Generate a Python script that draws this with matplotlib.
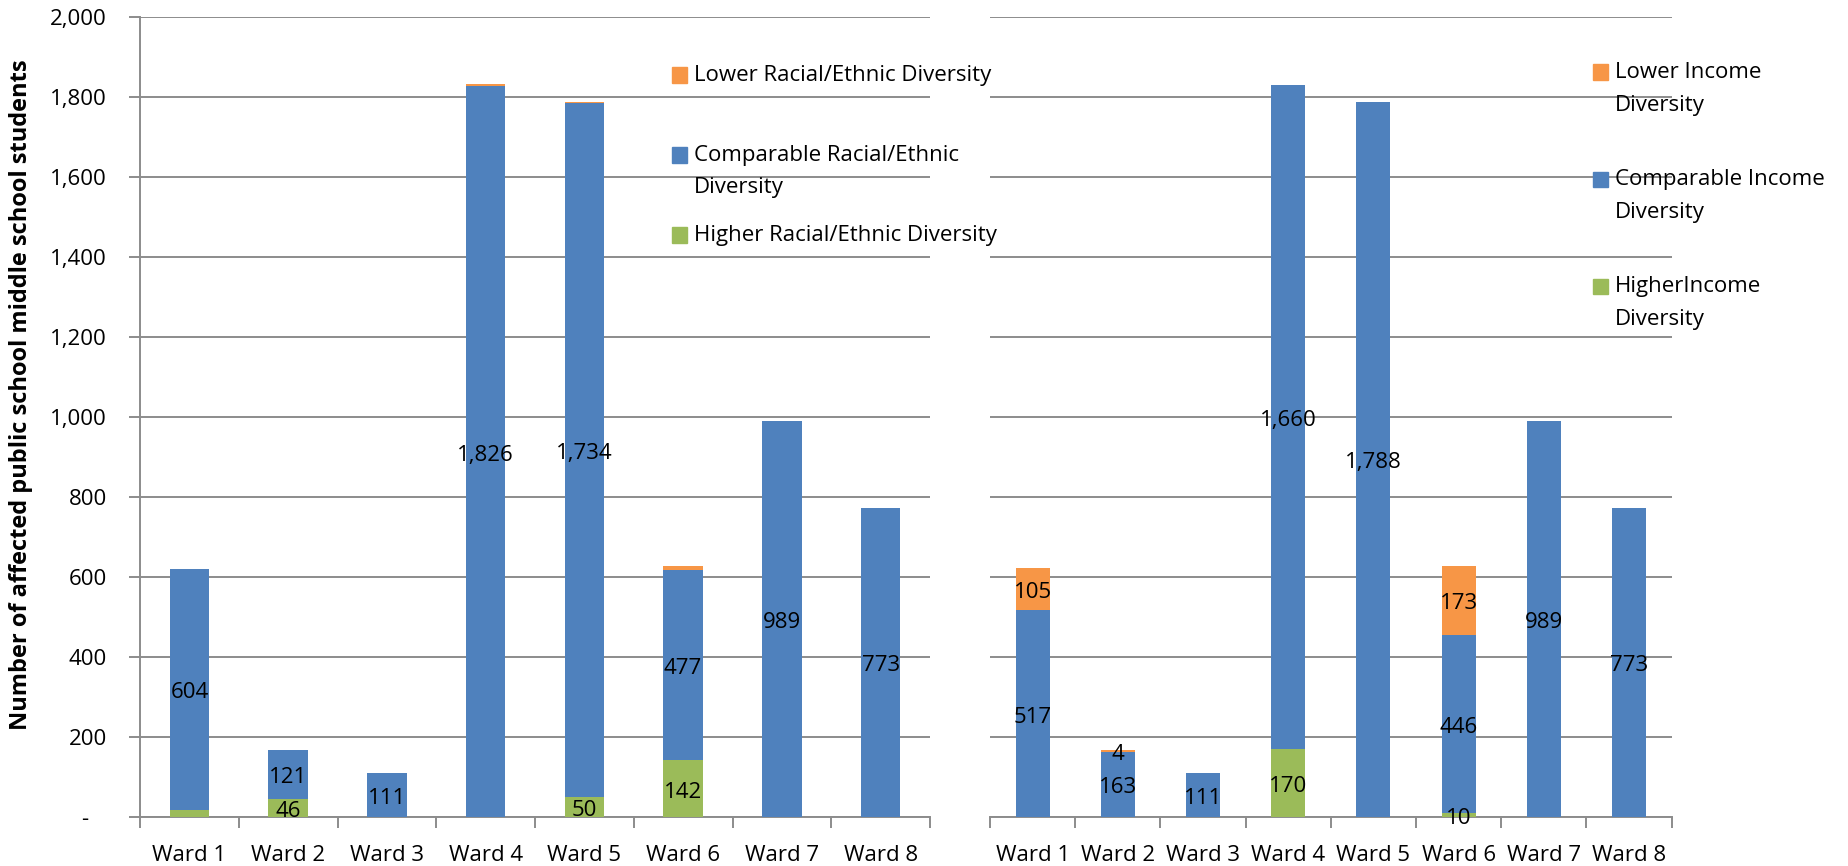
import matplotlib
matplotlib.use("Agg")
import matplotlib.pyplot as plt
from matplotlib.patches import Rectangle
from matplotlib.ticker import FixedLocator, FuncFormatter

WARDS = ["Ward 1", "Ward 2", "Ward 3", "Ward 4", "Ward 5", "Ward 6", "Ward 7", "Ward 8"]

# racial / ethnic diversity (left panel)
race_higher = [17, 46, 0, 0, 50, 142, 0, 0]
race_comparable = [604, 121, 111, 1826, 1734, 477, 989, 773]
race_lower = [0, 0, 0, 5, 4, 10, 0, 0]

# income diversity (right panel)
income_higher = [0, 0, 0, 170, 0, 10, 0, 0]
income_comparable = [517, 163, 111, 1660, 1788, 446, 989, 773]
income_lower = [105, 4, 0, 0, 0, 173, 0, 0]

race_labels = ["Lower Racial/Ethnic Diversity",
               "Comparable Racial/Ethnic\nDiversity",
               "Higher Racial/Ethnic Diversity"]
income_labels = ["Lower Income\nDiversity",
                 "Comparable Income\nDiversity",
                 "HigherIncome\nDiversity"]

Y_TICKS = [0, 200, 400, 600, 800, 1000, 1200, 1400, 1600, 1800, 2000]

BLUE = "#4F81BD"
GREEN = "#9BBB59"
ORANGE = "#F79646"
GRID = "#8C8C8C"
FONT = ["Open Sans", "DejaVu Sans"]
LABEL_FONT = ["Liberation Sans Narrow", "DejaVu Sans Condensed", "Open Sans"]

W, H = 1848, 866


def fmt_num(v, _pos=None):
    if v == 0:
        return "-   "
    return f"{int(v):,}"


def draw_panel(ax, higher, comparable, lower, min_label, show_y):
    x = range(len(WARDS))
    bottoms = [0] * len(WARDS)
    for vals, color in ((higher, GREEN), (comparable, BLUE), (lower, ORANGE)):
        ax.bar(x, vals, width=0.4, bottom=bottoms, color=color, zorder=3)
        for i, v in enumerate(vals):
            if v >= min_label:
                ax.text(i, bottoms[i] + v / 2 - 8, fmt_num(v), ha="center", va="center",
                        fontsize=16, family=FONT, zorder=5)
        bottoms = [b + v for b, v in zip(bottoms, vals)]

    ax.set_xlim(-0.5, len(WARDS) - 0.5)
    ax.set_ylim(0, 2000)
    ax.yaxis.set_major_locator(FixedLocator(Y_TICKS))
    ax.grid(axis="y", color=GRID, linewidth=1.4, zorder=0)

    ax.set_xticks(list(x))
    ax.set_xticklabels(WARDS, family=FONT, fontsize=16)
    ax.set_xticks([i - 0.5 for i in range(len(WARDS) + 1)], minor=True)
    ax.tick_params(axis="x", which="major", length=0, pad=20)
    ax.tick_params(axis="x", which="minor", length=8, width=1.4, color=GRID)

    for side in ("top", "right"):
        ax.spines[side].set_visible(False)
    ax.spines["bottom"].set_color(GRID)
    ax.spines["bottom"].set_linewidth(1.4)

    if show_y:
        ax.spines["left"].set_color(GRID)
        ax.spines["left"].set_linewidth(1.4)
        ax.yaxis.set_major_formatter(FuncFormatter(fmt_num))
        ax.tick_params(axis="y", length=8, width=1.4, color=GRID, pad=16, labelsize=16)
        for lab in ax.get_yticklabels():
            lab.set_family(FONT)
    else:
        ax.spines["left"].set_visible(False)
        ax.tick_params(axis="y", length=0, labelleft=False)


def draw_legend(fig, labels, colors, x_mark, x_text, y_first, step, line_gap=33):
    for label, color, y0 in zip(labels, colors, [y_first + k * step for k in range(3)]):
        fig.add_artist(Rectangle(((x_mark) / W, 1 - (y0 + 7.5) / H), 15 / W, 15 / H,
                                 transform=fig.transFigure, color=color))
        for j, line in enumerate(label.split("\n")):
            fig.text(x_text / W, 1 - (y0 + j * line_gap) / H, line, ha="left",
                     va="center", fontsize=16, family=FONT)


fig = plt.figure(figsize=(W / 100, H / 100), dpi=100)

ax_left = fig.add_axes([140 / W, (H - 817.3) / H, 790 / W, 800.6 / H])
ax_right = fig.add_axes([990 / W, (H - 817.3) / H, 681.7 / W, 800.6 / H])

draw_panel(ax_left, race_higher, race_comparable, race_lower, 20, True)
draw_panel(ax_right, income_higher, income_comparable, income_lower, 1, False)

fig.text(21 / W, 1 - 395 / H, "Number of affected public school middle school students",
         rotation=90, ha="center", va="center", fontsize=17, fontweight="bold",
         family=LABEL_FONT)

draw_legend(fig, race_labels, [ORANGE, BLUE, GREEN], 672, 694, 75, 80)
draw_legend(fig, income_labels, [ORANGE, BLUE, GREEN], 1593, 1615, 72, 107.2)

fig.savefig("out.png", dpi=100)
